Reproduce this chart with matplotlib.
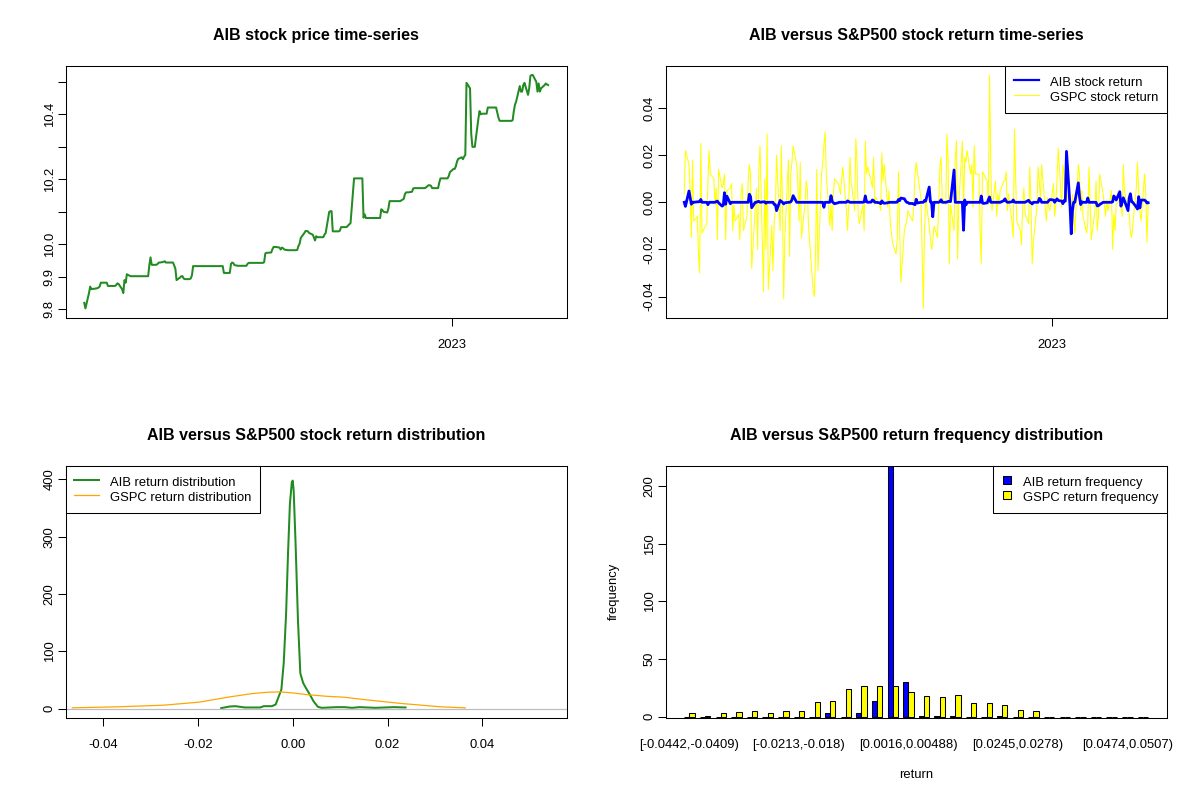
import matplotlib
matplotlib.use("Agg")
import matplotlib.pyplot as plt
from matplotlib.lines import Line2D
import numpy as np
import pandas as pd

plt.rcParams['font.family'] = ['Liberation Sans', 'DejaVu Sans']

# AIB closing price, one value per trading day
aib_price = [
    9.820, 9.803, 9.850, 9.870, 9.862, 9.863, 9.863, 9.865, 9.867, 9.870,
    9.882, 9.882, 9.882, 9.882, 9.872, 9.872, 9.872, 9.872, 9.872, 9.875,
    9.880, 9.878, 9.862, 9.850, 9.890, 9.882, 9.908, 9.902, 9.902, 9.902,
    9.902, 9.902, 9.902, 9.902, 9.902, 9.902, 9.902, 9.902, 9.902, 9.936,
    9.960, 9.937, 9.937, 9.937, 9.940, 9.944, 9.944, 9.946, 9.948, 9.944,
    9.944, 9.944, 9.944, 9.944, 9.935, 9.925, 9.890, 9.898, 9.902, 9.902,
    9.895, 9.893, 9.893, 9.893, 9.895, 9.905, 9.933, 9.933, 9.933, 9.933,
    9.933, 9.933, 9.933, 9.933, 9.933, 9.933, 9.933, 9.933, 9.933, 9.933,
    9.933, 9.933, 9.933, 9.933, 9.912, 9.912, 9.912, 9.912, 9.940, 9.944,
    9.942, 9.936, 9.934, 9.934, 9.934, 9.934, 9.934, 9.934, 9.940, 9.943,
    9.943, 9.943, 9.943, 9.943, 9.943, 9.943, 9.943, 9.943, 9.945, 9.972,
    9.974, 9.974, 9.975, 9.985, 9.992, 9.992, 9.992, 9.990, 9.984, 9.990,
    9.988, 9.984, 9.982, 9.982, 9.982, 9.982, 9.982, 9.982, 9.983, 9.995,
    10.002, 10.020, 10.035, 10.041, 10.041, 10.040, 10.035, 10.030, 10.022, 10.012,
    10.025, 10.022, 10.022, 10.022, 10.022, 10.030, 10.035, 10.100, 10.102, 10.102,
    10.040, 10.040, 10.040, 10.040, 10.042, 10.053, 10.053, 10.053, 10.054, 10.058,
    10.062, 10.065, 10.203, 10.203, 10.203, 10.203, 10.203, 10.203, 10.082, 10.092,
    10.081, 10.081, 10.081, 10.081, 10.081, 10.081, 10.081, 10.081, 10.081, 10.108,
    10.105, 10.100, 10.098, 10.110, 10.133, 10.133, 10.133, 10.133, 10.133, 10.133,
    10.133, 10.133, 10.140, 10.155, 10.160, 10.160, 10.160, 10.162, 10.172, 10.173,
    10.173, 10.173, 10.173, 10.173, 10.173, 10.173, 10.173, 10.182, 10.182, 10.180,
    10.173, 10.173, 10.173, 10.173, 10.190, 10.203, 10.203, 10.203, 10.203, 10.203,
    10.210, 10.222, 10.232, 10.232, 10.240, 10.255, 10.263, 10.268, 10.262, 10.270,
    10.275, 10.497, 10.480, 10.340, 10.300, 10.300, 10.300, 10.385, 10.410, 10.400,
    10.402, 10.402, 10.402, 10.421, 10.421, 10.421, 10.421, 10.421, 10.421, 10.405,
    10.390, 10.380, 10.380, 10.380, 10.380, 10.380, 10.380, 10.380, 10.382, 10.410,
    10.430, 10.440, 10.487, 10.470, 10.470, 10.490, 10.497, 10.460, 10.480, 10.518,
    10.521, 10.521, 10.500, 10.470, 10.495, 10.470, 10.480, 10.490, 10.495, 10.492,
    10.490,
]

# S&P500 (GSPC) daily returns, same days
gspc_ret = [
    0.0035, 0.022, 0.016, 0.005, -0.015, 0.018, -0.008, -0.006, -0.022, -0.030,
    0.025, -0.013, -0.010, -0.009, 0.008, 0.022, 0.012, 0.010, -0.001, 0.006,
    -0.016, 0.014, 0.006, 0.008, 0.012, -0.016, 0.005, 0.006, 0.008, -0.012,
    -0.001, -0.008, -0.005, -0.016, 0.0035, 0.008, -0.012, -0.006, 0.009, 0.016,
    0.012, -0.028, -0.002, 0.006, -0.020, 0.013, 0.024, -0.038, 0.010, -0.020,
    0.029, -0.037, -0.010, -0.029, -0.008, -0.0035, 0.020, -0.012, 0.024, -0.001,
    -0.041, -0.015, 0.018, -0.023, 0.012, 0.017, 0.024, 0.016, 0.008, -0.008,
    0.017, -0.015, -0.001, 0.009, 0.006, -0.010, -0.017, -0.038, -0.040, -0.020,
    0.014, -0.029, 0.012, 0.017, 0.024, 0.030, 0.012, -0.010, -0.001, -0.012,
    0.0035, 0.010, 0.008, 0.006, 0.0035, 0.010, 0.015, -0.0035, -0.012, -0.001,
    0.019, 0.009, -0.0035, 0.027, 0.016, -0.006, -0.009, -0.001, -0.012, 0.026,
    0.012, 0.015, 0.009, 0.006, 0.019, -0.001, 0.002, -0.001, -0.0035, 0.021,
    0.009, 0.016, -0.002, 0.005, -0.008, -0.013, -0.017, -0.022, -0.015, 0.013,
    -0.010, -0.034, -0.012, -0.010, -0.008, -0.0035, -0.005, -0.008, -0.001, 0.012,
    0.017, 0.013, 0.002, -0.020, -0.045, -0.013, 0.002, -0.010, -0.015, -0.020,
    -0.017, -0.010, -0.015, -0.001, 0.015, 0.019, 0.002, -0.001, 0.029, 0.017,
    -0.026, -0.001, -0.012, 0.019, 0.026, -0.024, -0.001, 0.026, -0.0035, 0.019,
    0.017, 0.022, 0.012, 0.016, -0.002, 0.024, 0.012, 0.012, -0.012, -0.026,
    0.013, 0.012, 0.009, -0.001, 0.054, 0.016, -0.0035, 0.009, -0.006, 0.0035,
    -0.001, 0.005, 0.009, 0.009, 0.013, -0.0035, 0.0035, -0.009, -0.015, 0.031,
    0.012, -0.008, -0.012, -0.018, -0.001, 0.006, -0.005, -0.009, 0.015, -0.001,
    -0.026, -0.017, -0.002, 0.015, 0.009, 0.001, 0.016, -0.002, -0.008, 0.002,
    -0.002, -0.0035, 0.008, -0.006, -0.001, 0.010, 0.023, -0.002, 0.016, 0.012,
    0.002, 0.0035, -0.001, -0.012, 0.0035, -0.005, -0.013, 0.016, 0.012, -0.0035,
    0.005, -0.006, -0.013, -0.009, 0.015, -0.001, -0.016, -0.0035, 0.009, -0.012,
    -0.006, 0.012, 0.0035, -0.001, -0.006, 0.001, -0.0035, 0.005, -0.020, -0.005,
    -0.012, -0.001, 0.001, -0.001, -0.006, 0.016, 0.005, -0.0035, -0.005, -0.013,
    -0.015, -0.010, 0.006, 0.017, 0.005, -0.0035, -0.008, 0.012, 0.0035, -0.017,
    -0.001,
]

# density estimates
aib_dens_x = [-0.0151, -0.0133, -0.0121, -0.0101, -0.0069, -0.0061, -0.0044, -0.0036,
              -0.0024, -0.0019, -0.0014, -0.0010, -0.0006, -0.0002, 0.0, 0.0002,
              0.0006, 0.0011, 0.0016, 0.0022, 0.0028, 0.0036, 0.0044, 0.0053,
              0.0061, 0.0093, 0.0109, 0.0125, 0.0141, 0.0174, 0.0214, 0.0238]
aib_dens_y = [1.2, 4.0, 4.6, 2.3, 2.3, 4.6, 4.6, 7.5,
              33.5, 80, 166, 270, 357, 395, 398, 380,
              288, 155, 62, 45, 36, 25, 13, 3.5,
              1.7, 2.9, 2.9, 1.7, 2.9, 1.7, 2.9, 2.3]
gspc_dens_x = [-0.0465, -0.0368, -0.0271, -0.0198, -0.0133, -0.0085, -0.0053, -0.0028, 0.0,
               0.0028, 0.0069, 0.0109, 0.0149, 0.0190, 0.0230, 0.0271, 0.0311, 0.0364]
gspc_dens_y = [1.7, 3.5, 6.4, 11.6, 20.8, 26.6, 28.9, 29.5, 27.7,
               24.9, 22.0, 20.2, 16.2, 12.7, 9.2, 6.4, 3.5, 1.7]

# return frequency per bin (30 bins)
aib_freq = [0, 0, 0, 0, 0, 0, 0, 0, 0, 3, 0, 3, 14, 227, 30,
            1, 1, 1, 0, 0, 1, 0, 0, 0, 0, 0, 0, 0, 0, 0]
gspc_freq = [3, 1, 3, 4, 5, 3, 5, 5, 13, 14, 24, 27, 27, 27, 21,
             18, 17, 19, 12, 12, 10, 6, 5, 0, 0, 0, 0, 0, 0, 0]
shown_bins = [0, 7, 14, 21, 28]
shown_bin_labels = ['[-0.0442,-0.0409)', '[-0.0213,-0.018)', '[0.0016,0.00488)',
                    '[0.0245,0.0278)', '[0.0474,0.0507)']

aib_price = np.array(aib_price)
aib_ret = np.r_[0.0, np.diff(aib_price) / aib_price[:-1]]
dates = pd.bdate_range('2022-02-24', periods=len(aib_price))

FS = 9.4
W, H = 1200, 800


def fx(px):
    return px / W


def fy(py):
    return 1 - py / H


def style(ax):
    for s in ax.spines.values():
        s.set_linewidth(0.75)
    ax.tick_params(length=5.8, width=0.75, labelsize=FS, colors='black')
    ax.tick_params(axis='x', pad=9.8)
    ax.tick_params(axis='y', pad=1.5)


def rot_y(ax, ticks, labels):
    ax.set_yticks(ticks)
    ax.set_yticklabels(labels, rotation=90, va='center')


def r_legend(ax, handles, labels, loc, hl):
    leg = ax.legend(handles, labels, loc=loc, borderaxespad=0, fancybox=False,
                    edgecolor='black', framealpha=1, fontsize=FS, handlelength=hl,
                    handleheight=1.3, handletextpad=0.85, borderpad=0.65,
                    labelspacing=0.08)
    leg.get_frame().set_linewidth(0.75)
    return leg


fig = plt.figure(figsize=(12, 8), dpi=100)
aw, ah = 501 / W, 252 / H
ax1 = fig.add_axes([fx(65.7), fy(317.7), aw, ah])
ax2 = fig.add_axes([fx(665.7), fy(317.7), aw, ah])
ax3 = fig.add_axes([fx(65.7), fy(717.7), aw, ah])
ax4 = fig.add_axes([fx(665.7), fy(717.7), aw, ah])

# 1. price
ax1.plot(dates, aib_price, color='#228B22', lw=1.45)
ax1.margins(x=0.04, y=0.04)
ax1.set_xticks([pd.Timestamp('2023-01-01')])
ax1.set_xticklabels(['2023'])
rot_y(ax1, [9.8, 9.9, 10.0, 10.1, 10.2, 10.3, 10.4, 10.5],
      ['9.8', '9.9', '10.0', '', '10.2', '', '10.4', ''])
style(ax1)

# 2. returns
ax2.plot(dates, gspc_ret, color='yellow', lw=0.75)
ax2.plot(dates, aib_ret, color='blue', lw=2.0)
ax2.margins(x=0.04, y=0.04)
ax2.set_xticks([pd.Timestamp('2023-01-01')])
ax2.set_xticklabels(['2023'])
rot_y(ax2, [-0.04, -0.02, 0.0, 0.02, 0.04], ['-0.04', '-0.02', '0.00', '0.02', '0.04'])
style(ax2)
r_legend(ax2, [Line2D([], [], color='blue', lw=1.6), Line2D([], [], color='yellow', lw=0.75)],
         ['AIB stock return', 'GSPC stock return'], 'upper right', 1.9)

# 3. density
ax3.plot(aib_dens_x, aib_dens_y, color='#228B22', lw=1.45)
ax3.plot(gspc_dens_x, gspc_dens_y, color='#FFA500', lw=0.9)
ax3.axhline(0, color='#BEBEBE', lw=0.9)
ax3.set_xlim(-0.0479, 0.0578)
ax3.set_ylim(-15.5, 424)
ax3.set_xticks([-0.04, -0.02, 0.0, 0.02, 0.04])
ax3.set_xticklabels(['-0.04', '-0.02', '0.00', '0.02', '0.04'])
rot_y(ax3, [0, 100, 200, 300, 400], ['0', '100', '200', '300', '400'])
style(ax3)
r_legend(ax3, [Line2D([], [], color='#228B22', lw=1.45), Line2D([], [], color='#FFA500', lw=0.9)],
         ['AIB return distribution', 'GSPC return distribution'], 'upper left', 1.9)

# 4. frequency bars (R barplot beside=TRUE layout)
g = np.arange(len(aib_freq)) * 3
ax4.bar(g + 1.5, aib_freq, width=1, color='blue', edgecolor='black', lw=0.75)
ax4.bar(g + 2.5, gspc_freq, width=1, color='yellow', edgecolor='black', lw=0.75)
ax4.set_xlim(-2.56, 93.56)
ax4.set_ylim(-0.9, 217.7)
ax4.set_xticks([g[i] + 2 for i in shown_bins])
ax4.set_xticklabels(shown_bin_labels)
rot_y(ax4, [0, 50, 100, 150, 200], ['0', '50', '100', '150', '200'])
style(ax4)
ax4.tick_params(axis='x', length=0, pad=15.6)
sq = dict(marker='s', markersize=6.3, markeredgecolor='black', markeredgewidth=0.75, linestyle='none')
r_legend(ax4, [Line2D([], [], markerfacecolor='blue', **sq),
               Line2D([], [], markerfacecolor='yellow', **sq)],
         ['AIB return frequency', 'GSPC return frequency'], 'upper right', 0.75)
fig.text(fx(916.2), fy(778), 'return', ha='center', va='baseline', fontsize=FS)
fig.text(fx(614), fy(591.7), 'frequency', ha='center', va='center', rotation=90, fontsize=FS)

titles = [(316.2, 39.7, 'AIB stock price time-series'),
          (916.2, 39.7, 'AIB versus S&P500 stock return time-series'),
          (316.2, 440.0, 'AIB versus S&P500 stock return distribution'),
          (916.2, 440.0, 'AIB versus S&P500 return frequency distribution')]
for cx, by, t in titles:
    fig.text(fx(cx), fy(by), t, ha='center', va='baseline', fontsize=11.5, fontweight='bold')

fig.savefig('out.png', dpi=100)
